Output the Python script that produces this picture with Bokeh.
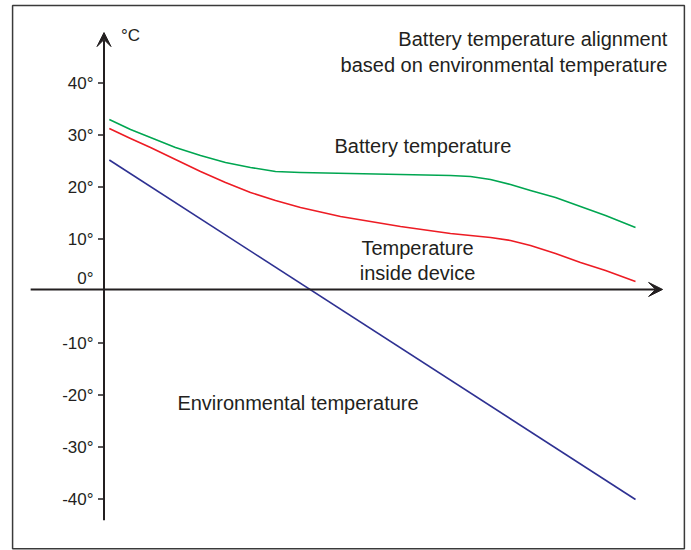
from bokeh.plotting import figure
from bokeh.models import Range1d, Arrow, VeeHead
from bokeh.core.properties import value
from bokeh.embed import file_html
from bokeh.resources import INLINE

# ---------------- data ----------------
env_x = [1, 100]
env_t = [25.2, -40.1]

battery_x = [1, 4.99, 8.75, 13.45, 18.16, 22.86, 27.56, 32.27, 36.97, 46.38, 55.79,
             65.19, 68.96, 72.72, 76.48, 80.24, 84.95, 89.65, 94.36, 100]
battery_t = [32.98, 31.06, 29.52, 27.6, 26.06, 24.71, 23.75, 22.98, 22.79, 22.6, 22.4,
             22.21, 22.02, 21.44, 20.48, 19.33, 17.98, 16.25, 14.52, 12.21]

device_x = [1, 4.99, 8.75, 13.45, 18.16, 22.86, 27.56, 32.27, 36.97, 44.5, 55.79,
            65.19, 72.72, 76.48, 80.24, 84.95, 89.65, 94.36, 100]
device_t = [31.25, 29.33, 27.6, 25.29, 22.98, 20.87, 18.94, 17.4, 16.06, 14.33, 12.4,
            11.06, 10.29, 9.71, 8.75, 7.21, 5.48, 3.94, 1.83]

tick_values = [40, 30, 20, 10, -10, -20, -30, -40]
tick_labels = ["40°", "30°", "20°", "10°", "-10°", "-20°", "-30°", "-40°"]
zero_label = "0°"
unit_label = "°C"

title_lines = ["Battery temperature alignment", "based on environmental temperature"]
battery_label = "Battery temperature"
device_label = ["Temperature", "inside device"]
env_label = "Environmental temperature"

# ---------------- styling ----------------
INK = "#231f20"
GREEN = "#00a651"
RED = "#ed1c24"
BLUE = "#2e3192"
SANS = value("Liberation Sans")

PX_X = 5.315   # pixels per x unit
PX_T = 5.2     # pixels per degree
W, H = 690, 550
X_LEFT = -103.5 / PX_X
X_RIGHT = (W - 103.5) / PX_X
T_TOP = 290.5 / PX_T
T_BOTTOM = (290.5 - H) / PX_T

p = figure(width=W, height=H, output_backend="svg", toolbar_location=None,
           x_range=Range1d(X_LEFT, X_RIGHT), y_range=Range1d(T_BOTTOM, T_TOP),
           x_axis_type=None, y_axis_type=None, min_border=0,
           outline_line_color=None, background_fill_color="white",
           border_fill_color="white")
p.grid.visible = False

# frame box
p.quad(left=[-17.2], right=[109.2], top=[54.9], bottom=[-49.55],
       fill_color=None, line_color="#3a3a3a", line_width=1.5)

# axes with arrows
head_y = VeeHead(size=14, fill_color=INK, line_color=INK, line_width=1)
head_x = VeeHead(size=14, fill_color=INK, line_color=INK, line_width=1)
p.add_layout(Arrow(end=head_y, x_start=0, y_start=-44.1, x_end=0, y_end=49.7,
                   line_color=INK, line_width=2))
p.add_layout(Arrow(end=head_x, x_start=-13.8, y_start=0.3, x_end=105.1, y_end=0.3,
                   line_color=INK, line_width=2))

# ticks
tick_len = 6 / PX_X
p.segment(x0=[-tick_len] * len(tick_values), x1=[0] * len(tick_values),
          y0=tick_values, y1=tick_values, line_color=INK, line_width=1.5)
p.text(x=[-10.5 / PX_X] * len(tick_values), y=tick_values, text=tick_labels,
       text_font=SANS, text_font_size="17px", text_color=INK,
       text_align="right", text_baseline="middle")
p.text(x=[-10.5 / PX_X], y=[0], text=[zero_label], y_offset=-13,
       text_font=SANS, text_font_size="17px", text_color=INK,
       text_align="right", text_baseline="middle")
p.text(x=[17 / PX_X], y=[49.7], text=[unit_label], y_offset=3,
       text_font=SANS, text_font_size="17px", text_color=INK,
       text_align="left", text_baseline="middle")

# series
p.line(env_x, env_t, line_color=BLUE, line_width=1.6)
p.line(battery_x, battery_t, line_color=GREEN, line_width=1.6, line_join="round")
p.line(device_x, device_t, line_color=RED, line_width=1.6, line_join="round")

# labels
FS = "20px"
p.text(x=[106.0, 106.0], y=[48.4, 43.4], text=title_lines,
       text_font=SANS, text_font_size=FS, text_color=INK,
       text_align="right", text_baseline="alphabetic")
p.text(x=[60.0], y=[27.8], text=[battery_label],
       text_font=SANS, text_font_size=FS, text_color=INK,
       text_align="center", text_baseline="alphabetic")
p.text(x=[59.0, 59.0], y=[8.3, 3.5], text=device_label,
       text_font=SANS, text_font_size=FS, text_color=INK,
       text_align="center", text_baseline="alphabetic")
p.text(x=[36.5], y=[-21.5], text=[env_label],
       text_font=SANS, text_font_size=FS, text_color=INK,
       text_align="center", text_baseline="alphabetic")

open("out.html", "w").write(file_html(p, INLINE))
